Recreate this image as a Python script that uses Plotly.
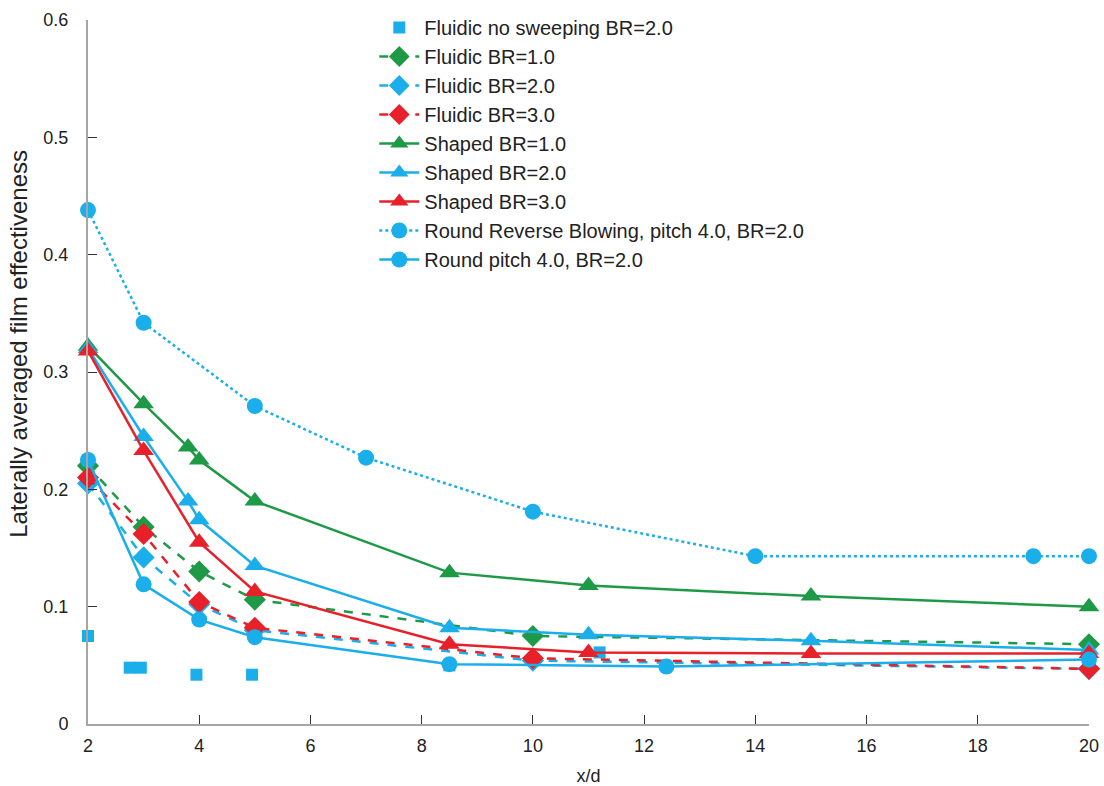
import plotly.graph_objects as go

GREEN = "#1E9A46"
BLUE = "#1AAEEA"
RED = "#E8202A"

# Fluidic no sweeping BR=2.0
nosweep_x = [2, 2.75, 2.95, 3.95, 4.95, 8.5, 11.2]
nosweep_y = [0.075, 0.048, 0.048, 0.042, 0.042, 0.050, 0.061]

# Fluidic
fl1_x = [2, 3, 4, 5, 10, 20]
fl1_y = [0.220, 0.168, 0.130, 0.106, 0.075, 0.068]
fl2_x = [2, 3, 4, 5, 10, 20]
fl2_y = [0.205, 0.142, 0.102, 0.080, 0.054, 0.047]
fl3_x = [2, 3, 4, 5, 10, 20]
fl3_y = [0.210, 0.162, 0.104, 0.082, 0.056, 0.047]

# Shaped
sh1_x = [2, 3, 3.8, 4, 5, 8.5, 11, 15, 20]
sh1_y = [0.322, 0.273, 0.236, 0.225, 0.190, 0.129, 0.118, 0.109, 0.100]
sh2_x = [2, 3, 3.8, 4, 5, 8.5, 11, 15, 20]
sh2_y = [0.320, 0.245, 0.190, 0.174, 0.135, 0.082, 0.076, 0.071, 0.063]
sh3_x = [2, 3, 4, 5, 8.5, 11, 15, 20]
sh3_y = [0.318, 0.233, 0.155, 0.113, 0.068, 0.061, 0.060, 0.060]

# Round
rrb_x = [2, 3, 5, 7, 10, 14, 19, 20]
rrb_y = [0.438, 0.342, 0.271, 0.227, 0.181, 0.143, 0.143, 0.143]
rp_x = [2, 3, 4, 5, 8.5, 12.4, 20]
rp_y = [0.225, 0.119, 0.089, 0.074, 0.051, 0.049, 0.055]

x_ticks = [2, 4, 6, 8, 10, 12, 14, 16, 18, 20]
y_ticks = [0, 0.1, 0.2, 0.3, 0.4, 0.5, 0.6]
y_ticklabels = ["0", "0.1", "0.2", "0.3", "0.4", "0.5", "0.6"]

FONT = "Liberation Sans, Arial, sans-serif"

fig = go.Figure()

fig.add_trace(go.Scatter(x=nosweep_x, y=nosweep_y, mode="markers", name="Fluidic no sweeping BR=2.0",
                         marker=dict(symbol="square", size=12, color=BLUE), cliponaxis=False))

def line_trace(x, y, name, color, dash, symbol, msize):
    return go.Scatter(x=x, y=y, mode="lines+markers", name=name,
                      line=dict(color=color, width=2.5, dash=dash),
                      marker=dict(symbol=symbol, size=msize, color=color),
                      cliponaxis=False)

fig.add_trace(line_trace(fl1_x, fl1_y, "Fluidic BR=1.0", GREEN, "dash", "diamond", 17))
fig.add_trace(line_trace(fl2_x, fl2_y, "Fluidic BR=2.0", BLUE, "dash", "diamond", 17))
fig.add_trace(line_trace(fl3_x, fl3_y, "Fluidic BR=3.0", RED, "dash", "diamond", 17))
fig.add_trace(line_trace(sh1_x, sh1_y, "Shaped BR=1.0", GREEN, "solid", "triangle-up", 18))
fig.add_trace(line_trace(sh2_x, sh2_y, "Shaped BR=2.0", BLUE, "solid", "triangle-up", 18))
fig.add_trace(line_trace(sh3_x, sh3_y, "Shaped BR=3.0", RED, "solid", "triangle-up", 18))
fig.add_trace(line_trace(rrb_x, rrb_y, "Round Reverse Blowing, pitch 4.0, BR=2.0", BLUE, "dot", "circle", 16))
fig.add_trace(line_trace(rp_x, rp_y, "Round pitch 4.0, BR=2.0", BLUE, "solid", "circle", 16))

axis_common = dict(showgrid=False, zeroline=False, showline=True, linecolor="#A6A6A6", linewidth=2,
                   ticks="inside", tickcolor="#333333", ticklen=9, tickwidth=1, automargin=False,
                   tickfont=dict(family=FONT, size=18, color="#222222"))

fig.update_layout(
    width=1104, height=786,
    margin=dict(l=88, r=15, t=20, b=62, autoexpand=False),
    paper_bgcolor="white", plot_bgcolor="white",
    font=dict(family=FONT, color="#222222"),
    xaxis=dict(range=[2, 20], tickvals=x_ticks, ticktext=[str(v) for v in x_ticks],
               ticklabelstandoff=4,
               title=dict(text="x/d", font=dict(size=18), standoff=15), **axis_common),
    yaxis=dict(range=[0, 0.6], tickvals=y_ticks, ticktext=y_ticklabels,
               ticklabelstandoff=14, **axis_common),
    legend=dict(x=0.286, y=0.9898, xref="paper", yref="container", xanchor="left", yanchor="top",
                bgcolor="rgba(0,0,0,0)", font=dict(size=20), tracegroupgap=0, itemwidth=40),
    showlegend=True,
    annotations=[dict(text="Laterally averaged film effectiveness", textangle=-90,
                      xref="paper", yref="paper", x=-0.069, y=0.54,
                      xanchor="center", yanchor="middle", showarrow=False,
                      font=dict(size=24, family=FONT, color="#222222"))],
)

fig.write_html("out.html", config={"displayModeBar": False},
               post_script="document.body.style.margin='0';document.body.style.overflow='hidden';")
